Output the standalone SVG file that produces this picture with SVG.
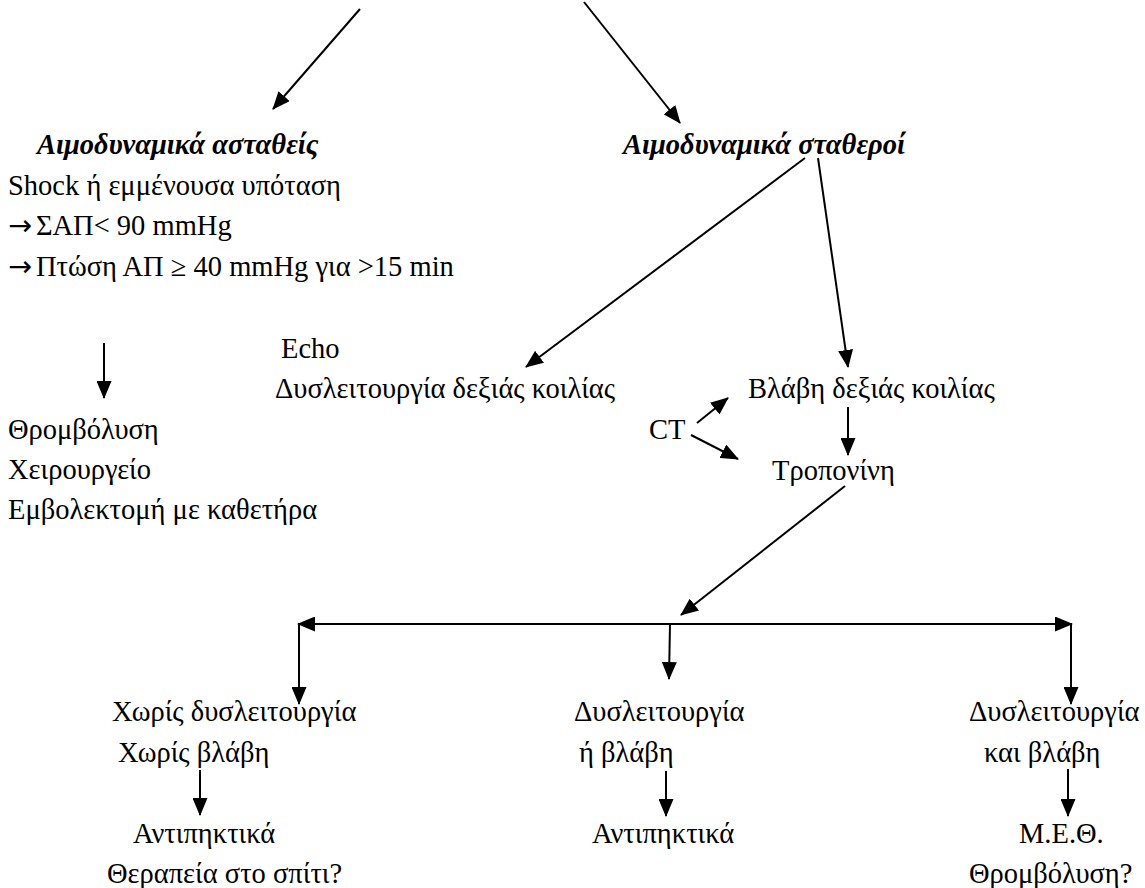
<svg xmlns="http://www.w3.org/2000/svg" width="1145" height="888" viewBox="0 0 1145 888">
<defs>
<marker id="ah" markerUnits="userSpaceOnUse" markerWidth="18" markerHeight="15" viewBox="0 0 18 15" refX="17" refY="7.5" orient="auto-start-reverse">
<path d="M0,0 L18,7.5 L0,15 z" fill="#000"/>
</marker>
<style>
.h{font-weight:bold;font-style:italic}
.ar{font-family:"DejaVu Sans",sans-serif}
.c line{stroke:#000;stroke-width:2;fill:none;marker-end:url(#ah)}
</style>
</defs>
<rect width="1145" height="888" fill="#fff"/>
<g font-size="28.5" fill="#000" font-family="'Liberation Serif', 'Times New Roman', serif">
<g id="unstable">
<text class="h" x="37" y="154">Αιμοδυναμικά ασταθείς</text>
<text x="8" y="195">Shock ή εμμένουσα υπόταση</text>
<text x="8" y="235"><tspan class="ar">→</tspan><tspan dx="4">ΣΑΠ&lt; 90 mmHg</tspan></text>
<text x="8" y="276"><tspan class="ar">→</tspan><tspan dx="4">Πτώση ΑΠ ≥ 40 mmHg για &gt;15 min</tspan></text>
</g>
<g id="unstable-tx">
<text x="8" y="439">Θρομβόλυση</text>
<text x="8" y="479">Χειρουργείο</text>
<text x="8" y="519">Εμβολεκτομή με καθετήρα</text>
</g>
<g id="stable"><text class="h" x="623" y="154">Αιμοδυναμικά σταθεροί</text></g>
<g id="echo">
<text x="281" y="358">Echo</text>
<text x="275" y="398">Δυσλειτουργία δεξιάς κοιλίας</text>
</g>
<g id="damage"><text x="748" y="398">Βλάβη δεξιάς κοιλίας</text></g>
<g id="ct"><text x="649" y="439">CT</text></g>
<g id="troponin"><text x="772" y="480">Τροπονίνη</text></g>
<g id="none">
<text x="112" y="721">Χωρίς δυσλειτουργία</text>
<text x="118" y="762">Χωρίς βλάβη</text>
</g>
<g id="either">
<text x="574" y="721">Δυσλειτουργία</text>
<text x="579" y="762">ή βλάβη</text>
</g>
<g id="both">
<text x="969" y="721">Δυσλειτουργία</text>
<text x="984" y="762">και βλάβη</text>
</g>
<g id="anticoag-home">
<text x="133" y="843">Αντιπηκτικά</text>
<text x="107" y="883">Θεραπεία στο σπίτι?</text>
</g>
<g id="anticoag"><text x="592" y="843">Αντιπηκτικά</text></g>
<g id="icu">
<text x="1019" y="843">Μ.Ε.Θ.</text>
<text x="969" y="883">Θρομβόλυση?</text>
</g>
</g>
<g id="connectors" class="c">
<line x1="360" y1="9" x2="273" y2="109"/>
<line x1="584" y1="2" x2="680" y2="123"/>
<line x1="805" y1="158" x2="526" y2="367"/>
<line x1="818" y1="158" x2="848" y2="367"/>
<line x1="104" y1="343" x2="104" y2="398"/>
<line x1="697" y1="423" x2="728" y2="398"/>
<line x1="691" y1="435" x2="738" y2="459"/>
<line x1="848" y1="407" x2="848" y2="455"/>
<line x1="845" y1="486" x2="681" y2="615"/>
<line x1="298" y1="624" x2="1072" y2="624" style="marker-start:url(#ah)"/>
<line x1="299" y1="624" x2="299" y2="704"/>
<line x1="670" y1="624" x2="669" y2="679"/>
<line x1="1071" y1="624" x2="1071" y2="704"/>
<line x1="200" y1="770" x2="200" y2="815"/>
<line x1="666" y1="771" x2="666" y2="816"/>
<line x1="1068" y1="769" x2="1068" y2="816"/>
</g>
</svg>
